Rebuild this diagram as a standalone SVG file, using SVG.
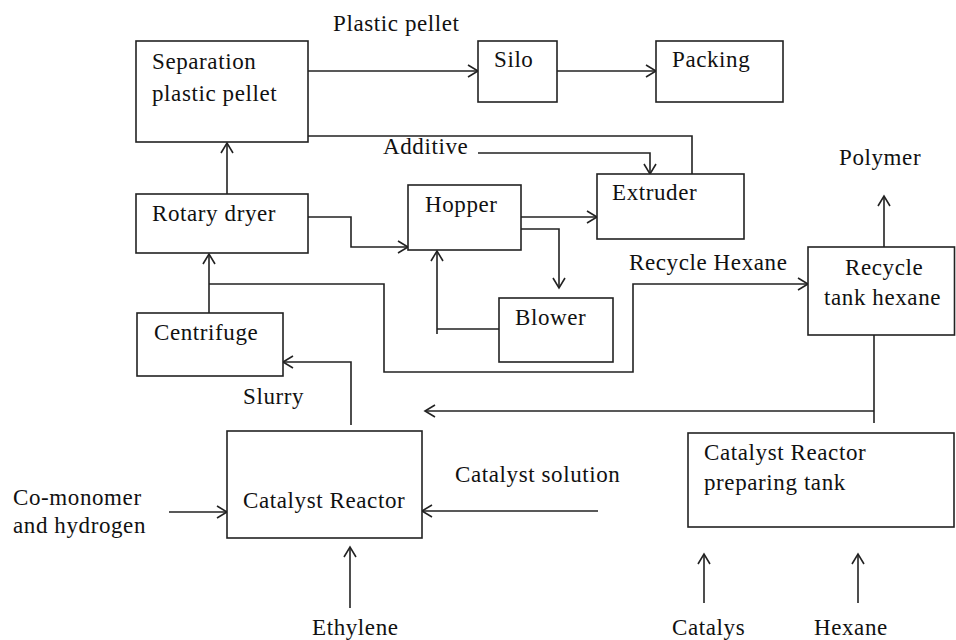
<svg xmlns="http://www.w3.org/2000/svg" width="956" height="640" viewBox="0 0 956 640">
  <defs>
    <style>
      .box { fill: #ffffff; stroke: #222222; stroke-width: 1.6; }
      .line { fill: none; stroke: #222222; stroke-width: 1.6; }
      .flow { fill: none; stroke: #222222; stroke-width: 1.6; marker-end: url(#arrow); }
      text { font-family: "Liberation Serif", "Times New Roman", serif; font-size: 23px; fill: #111111; letter-spacing: 0.6px; }
    </style>
    <!-- open V arrowhead -->
    <marker id="arrow" viewBox="-12 -8 14 16" refX="0" refY="0" markerWidth="14" markerHeight="16" markerUnits="userSpaceOnUse" orient="auto">
      <path d="M-10,-6 L0,0 L-10,6" fill="none" stroke="#222222" stroke-width="1.6"/>
    </marker>
  </defs>

  <rect width="956" height="640" fill="#ffffff"/>

  <!-- free labels -->
  <g id="labels">
    <text x="333" y="31">Plastic pellet</text>
    <text x="383" y="154">Additive</text>
    <text x="629" y="270">Recycle Hexane</text>
    <text x="839" y="165">Polymer</text>
    <text x="243" y="404">Slurry</text>
    <text x="455" y="482">Catalyst solution</text>
    <text x="13" y="505">Co-monomer</text>
    <text x="13" y="533">and hydrogen</text>
    <text x="312" y="635">Ethylene</text>
    <text x="672" y="635">Catalys</text>
    <text x="814" y="635">Hexane</text>
  </g>

  <g id="connectors">
    <path class="flow" d="M308,71 H478"/>
    <path class="flow" d="M557,71 H656"/>
    <path class="line" d="M692,174 V136 H308"/>
    <path class="flow" d="M478,153 H650 V174"/>
    <path class="flow" d="M227,194 V143"/>
    <path class="flow" d="M308,217 H351 V247 H408"/>
    <path class="flow" d="M521,217 H597"/>
    <path class="flow" d="M521,229 H559 V288"/>
    <path class="line" d="M499,329 H437 M437,334 V329"/>
    <path class="flow" d="M437,329 V251"/>
    <path class="flow" d="M209,313 V254"/>
    <path class="flow" d="M209,284 H384 V372 H633 V284 H808"/>
    <path class="flow" d="M884,247 V196"/>
    <path class="line" d="M874,327 V423"/>
    <path class="flow" d="M874,411 H425"/>
    <path class="flow" d="M351,425 V362 H283"/>
    <path class="flow" d="M169,512 H227"/>
    <path class="flow" d="M598,511 H422"/>
    <path class="flow" d="M350,608 V547"/>
    <path class="flow" d="M704,603 V554"/>
    <path class="flow" d="M858,603 V554"/>
  </g>

  <g id="separation">
    <rect class="box" x="136" y="41" width="172" height="101"/>
    <text x="152" y="69">Separation</text>
    <text x="152" y="101">plastic pellet</text>
  </g>
  <g id="silo">
    <rect class="box" x="478" y="41" width="79" height="61"/>
    <text x="494" y="67">Silo</text>
  </g>
  <g id="packing">
    <rect class="box" x="656" y="41" width="127" height="61"/>
    <text x="672" y="67">Packing</text>
  </g>
  <g id="extruder">
    <rect class="box" x="597" y="174" width="147" height="65"/>
    <text x="612" y="200">Extruder</text>
  </g>
  <g id="rotary-dryer">
    <rect class="box" x="136" y="194" width="172" height="59"/>
    <text x="152" y="221">Rotary dryer</text>
  </g>
  <g id="hopper">
    <rect class="box" x="408" y="185" width="113" height="65"/>
    <text x="425" y="212">Hopper</text>
  </g>
  <g id="blower">
    <rect class="box" x="499" y="298" width="114" height="64"/>
    <text x="515" y="325">Blower</text>
  </g>
  <g id="centrifuge">
    <rect class="box" x="137" y="313" width="146" height="63"/>
    <text x="154" y="340">Centrifuge</text>
  </g>
  <g id="recycle-tank">
    <rect class="box" x="808" y="247" width="146.5" height="88"/>
    <text x="845" y="275">Recycle</text>
    <text x="824" y="305">tank hexane</text>
  </g>
  <g id="catalyst-reactor">
    <rect class="box" x="227" y="431" width="195" height="107"/>
    <text x="243" y="508">Catalyst Reactor</text>
  </g>
  <g id="preparing-tank">
    <rect class="box" x="688" y="433" width="266" height="94"/>
    <text x="704" y="460">Catalyst Reactor</text>
    <text x="704" y="490">preparing tank</text>
  </g>
</svg>
